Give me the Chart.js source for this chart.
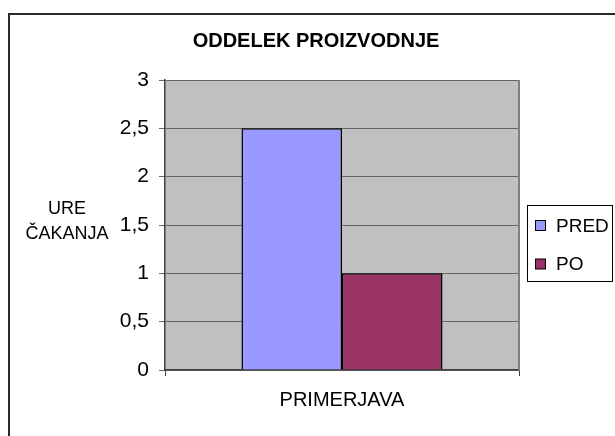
<!DOCTYPE html>
<html>
<head>
<meta charset="utf-8">
<script src="https://cdn.jsdelivr.net/npm/chart.js@4/dist/chart.umd.min.js"></script>
<style>
  html, body { margin: 0; padding: 0; background: #ffffff; }
  #c { display: block; }
</style>
</head>
<body>
<canvas id="c" width="615" height="436"></canvas>
<script>
// Chart content
const chartTitle = 'ODDELEK PROIZVODNJE';
const categories = ['PRIMERJAVA'];
const seriesNames = ['PRED', 'PO'];
const predValues = [2.5];
const poValues = [1];
const yTickLabels = ['0', '0,5', '1', '1,5', '2', '2,5', '3'];
const yTitleLines = ['URE', 'ČAKANJA'];

const FONT = '"Liberation Sans", Arial, sans-serif';

// Grey plot background, outer frame, plot border, title, y title and legend
const decor = {
  id: 'decor',
  beforeDraw(chart) {
    const { ctx, chartArea: a } = chart;
    ctx.save();
    ctx.fillStyle = '#ffffff';
    ctx.fillRect(0, 0, chart.width, chart.height);
    ctx.fillStyle = '#c0c0c0';
    ctx.fillRect(a.left, a.top, a.right - a.left, a.bottom - a.top);
    // outer frame
    ctx.strokeStyle = '#2a2a2a';
    ctx.lineWidth = 2;
    ctx.beginPath();
    ctx.moveTo(9, chart.height + 2);
    ctx.lineTo(9, 14);
    ctx.lineTo(chart.width + 2, 14);
    ctx.stroke();
    ctx.restore();
  },
  afterDraw(chart) {
    const { ctx, chartArea: a } = chart;
    ctx.save();
    // plot area right edge
    ctx.strokeStyle = '#808080';
    ctx.lineWidth = 2;
    ctx.beginPath();
    ctx.moveTo(a.right, a.top);
    ctx.lineTo(a.right, a.bottom);
    ctx.stroke();

    // title
    ctx.fillStyle = '#000000';
    ctx.textAlign = 'center';
    ctx.textBaseline = 'middle';
    ctx.font = 'bold 20px ' + FONT;
    ctx.fillText(chartTitle, 316, 41);

    // y axis title
    ctx.font = '18px ' + FONT;
    ctx.fillText(yTitleLines[0], 67, 209);
    ctx.fillText(yTitleLines[1], 67, 234);

    // legend
    ctx.strokeStyle = '#000000';
    ctx.lineWidth = 1;
    ctx.strokeRect(527.5, 205.5, 85, 76);
    ctx.font = '19px ' + FONT;
    ctx.textAlign = 'left';
    chart.data.datasets.forEach((ds, i) => {
      const cy = 225.5 + i * 38.5;
      ctx.fillStyle = ds.backgroundColor;
      ctx.fillRect(535.5, cy - 5, 10, 10);
      ctx.strokeRect(535.5, cy - 5, 10, 10);
      ctx.fillStyle = '#000000';
      ctx.fillText(ds.label, 556, cy + 1);
    });
    ctx.restore();
  }
};

new Chart(document.getElementById('c'), {
  type: 'bar',
  data: {
    labels: categories,
    datasets: [
      { label: seriesNames[0], data: predValues, backgroundColor: '#9999ff', borderColor: '#000000', borderWidth: 1.5, borderSkipped: 'bottom' },
      { label: seriesNames[1], data: poValues, backgroundColor: '#993366', borderColor: '#000000', borderWidth: 1.5, borderSkipped: 'bottom' }
    ]
  },
  options: {
    responsive: false,
    animation: false,
    devicePixelRatio: 1,
    layout: { padding: { top: 80, right: 96, bottom: 0, left: 0 } },
    datasets: { bar: { categoryPercentage: 0.568, barPercentage: 1 } },
    plugins: {
      legend: { display: false },
      title: { display: false },
      tooltip: { enabled: false }
    },
    scales: {
      x: {
        afterFit(s) { s.height = 66; },
        grid: { drawOnChartArea: false, color: '#404040', tickLength: 6, offset: true },
        border: { color: '#404040', width: 1.5 },
        ticks: { color: '#000000', font: { family: FONT, size: 20 }, padding: 12 }
      },
      y: {
        min: 0,
        max: 3,
        afterFit(s) { s.width = 165; },
        grid: { color: '#666666', lineWidth: 1, tickLength: 6 },
        border: { color: '#404040', width: 1.5 },
        ticks: {
          stepSize: 0.5,
          color: '#000000',
          font: { family: FONT, size: 21 },
          padding: 10,
          callback: (v, i) => yTickLabels[i]
        }
      }
    }
  },
  plugins: [decor]
});
</script>
</body>
</html>
